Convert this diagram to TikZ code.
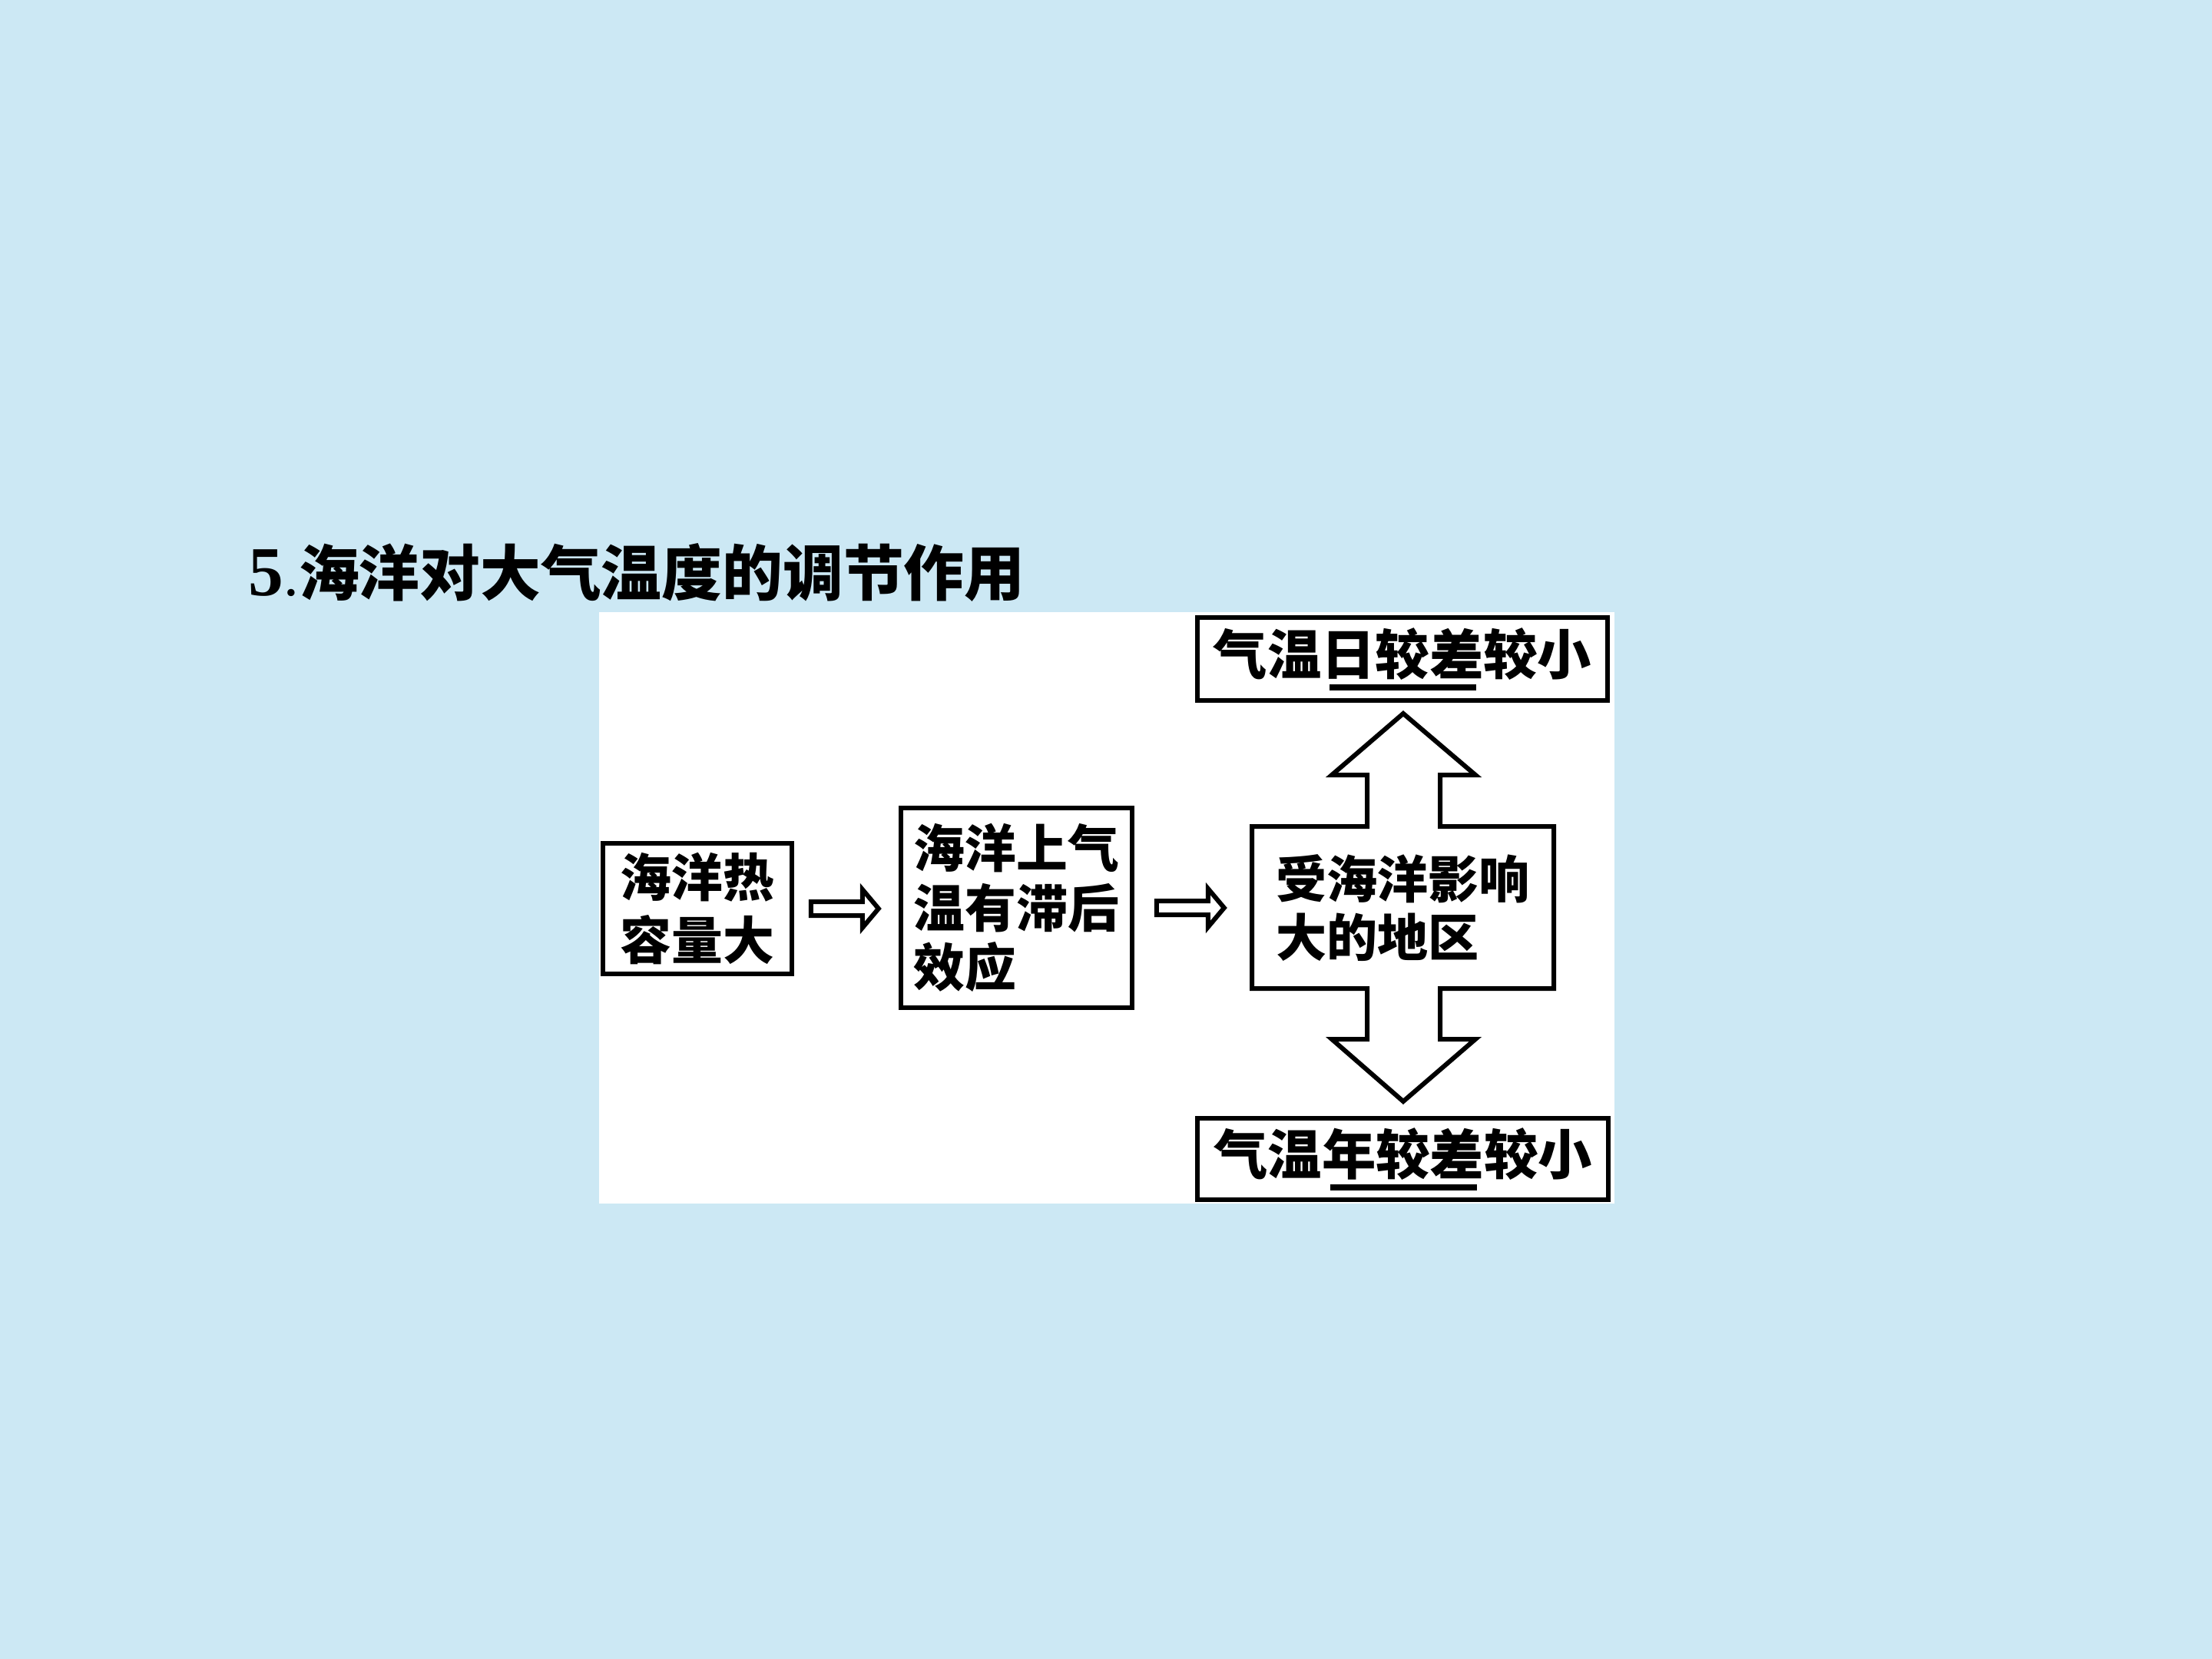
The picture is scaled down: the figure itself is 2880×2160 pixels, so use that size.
\documentclass[tikz,border=0pt]{standalone}
\usepackage{fontspec}
\setmainfont{Liberation Serif}[BoldFont={* Bold}]
\newfontfamily\cjk{Noto Sans CJK SC}
\usetikzlibrary{calc}
\definecolor{bg}{RGB}{204,232,244}
\newcommand\ulmark[1]{\leavevmode\rlap{\kern0.15em\rule[-0.29em]{2.72em}{0.11em}}#1}
\begin{document}
\begin{tikzpicture}[x=0.01cm,y=-0.01cm,
  box/.style={draw=black,line width=0.55mm,fill=white,inner sep=0pt,align=center},
  arrowline/.style={draw=black,line width=0.6mm,line join=miter,fill=white},
  txt/.style={inner sep=0pt,align=left}]
\useasboundingbox[fill=bg] (0,0) rectangle (2880,2160);
\fill[white] (780,797) rectangle (2102,1567);
% title
\node[anchor=base west,inner sep=0pt] (title) at (323,775)
  {{\fontsize{26}{30}\selectfont\bfseries 5}{\fontsize{22.4}{26}\selectfont.\cjk\bfseries 海洋对大气温度的调节作用}};
% boxes
\node[box,minimum width=2.46cm,minimum height=1.70cm,
  font=\cjk\bfseries\fontsize{19}{23.5}\selectfont] (b1) at (908,1183) {海洋热\\容量大};
\node[box,minimum width=3.01cm,minimum height=2.60cm,align=left,
  font=\cjk\bfseries\fontsize{19}{22}\selectfont] (b2) at (1323.5,1182) {海洋上气\\温有滞后\\效应};
% region box with up and down arrows
\draw[arrowline] (1630,1076) -- (1780,1076) -- (1780,1009) -- (1734,1009) -- (1827,929)
  -- (1921,1009) -- (1875,1009) -- (1875,1076) -- (2023,1076) -- (2023,1287)
  -- (1875,1287) -- (1875,1353) -- (1921,1353) -- (1827,1434) -- (1734,1353)
  -- (1780,1353) -- (1780,1287) -- (1630,1287) -- cycle;
\node[txt,font=\cjk\bfseries\fontsize{18.8}{21.6}\selectfont] (b3) at (1826.5,1182) {受海洋影响\\大的地区};
\node[box,minimum width=5.34cm,minimum height=1.08cm,
  font=\cjk\bfseries\fontsize{20}{24}\selectfont] (top) at (1826,858) {气温\ulmark{日较差}较小};
\node[box,minimum width=5.35cm,minimum height=1.06cm,
  font=\cjk\bfseries\fontsize{20}{24}\selectfont] (bot) at (1826.5,1509) {气温\ulmark{年较差}较小};
% hollow arrows between boxes
\coordinate (a1) at ($(b1.east)+(22,0)$);
\coordinate (a2) at ($(b2.east)+(29,0)$);
\foreach \s in {a1,a2}{
  \draw[arrowline] ($(\s)+(0,-9)$) -- ++(67,0) -- ++(0,-16) -- ++(21,25) -- ++(-21,25)
    -- ++(0,-16) -- ++(-67,0) -- cycle;
}
\end{tikzpicture}
\end{document}
